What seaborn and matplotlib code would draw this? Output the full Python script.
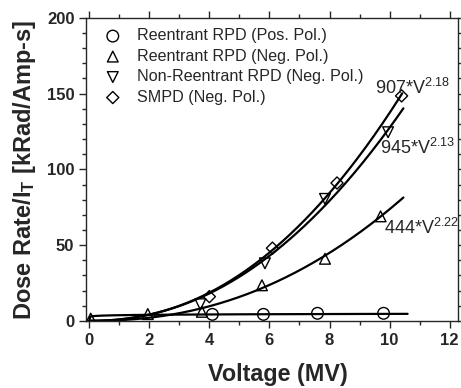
import numpy as np
import matplotlib
matplotlib.use("Agg")
import matplotlib.pyplot as plt
import seaborn as sns

# Measured points (voltage in MV, dose rate in kRad/Amp-s)
pos_v = [4.1, 5.8, 7.6, 9.8]
pos_y = [4.3, 4.3, 5.0, 5.0]
neg_v = [0.05, 1.95, 3.75, 5.75, 7.85, 9.7]
neg_y = [1.5, 4.5, 6.0, 23.5, 41.0, 69.0]
nonre_v = [3.7, 5.85, 7.85, 9.95]
nonre_y = [11.0, 38.0, 80.5, 124.5]
smpd_v = [4.0, 6.1, 8.25, 10.4]
smpd_y = [16.0, 48.0, 91.0, 148.5]

labels = ["Reentrant RPD (Pos. Pol.)", "Reentrant RPD (Neg. Pol.)",
          "Non-Reentrant RPD (Neg. Pol.)", "SMPD (Neg. Pol.)"]
markers = ["o", "^", "v", "D"]

# Power-law fits (coefficient in Rad/Amp-s, exponent, last voltage drawn)
fit_coef = [3750, 444, 945, 907]
fit_exp = [0.09, 2.22, 2.13, 2.18]
fit_end = [10.6, 10.46, 10.46, 10.42]

sns.set_style("ticks")
plt.rcParams["font.family"] = ["Liberation Sans", "DejaVu Sans"]
plt.rcParams["mathtext.fontset"] = "custom"
plt.rcParams["mathtext.rm"] = "Liberation Sans"
plt.rcParams["mathtext.bf"] = "Liberation Sans:bold"
plt.rcParams["mathtext.default"] = "regular"

fig = plt.figure(figsize=(4.61, 3.88), dpi=100)
ax = fig.add_axes([0.187, 0.173, 0.806, 0.781])

# fit curves
for c, e, end in zip(fit_coef, fit_exp, fit_end):
    v = np.linspace(0, end, 300)
    sns.lineplot(x=v, y=c * v ** e / 1000.0, ax=ax, color="black", lw=1.6)

series = [(pos_v, pos_y), (neg_v, neg_y), (nonre_v, nonre_y), (smpd_v, smpd_y)]
sizes = [70, 60, 60, 38]
for (vx, vy), m, lab, s in zip(series, markers, labels, sizes):
    sns.scatterplot(x=vx, y=vy, ax=ax, marker=m, s=s, facecolor="none",
                    edgecolor="black", linewidth=1.0, label=lab, zorder=3)

ax.legend(loc="upper left", frameon=False, fontsize=11.6, handletextpad=0.5,
          labelspacing=0.34, borderaxespad=0.25, bbox_to_anchor=(0.0, 1.0))

ax.text(9.5, 154, "907*V$^{2.18}$", fontsize=13, va="center")
ax.text(9.69, 114, "945*V$^{2.13}$", fontsize=13, va="center")
ax.text(9.83, 61.5, "444*V$^{2.22}$", fontsize=13, va="center")

ax.set_xlim(-0.1, 12.27)
ax.set_ylim(0, 200)
ax.set_xticks(range(0, 13, 2))
ax.set_xticks(range(1, 13, 2), minor=True)
ax.set_yticks(range(0, 201, 50))
ax.set_yticks(range(0, 201, 10), minor=True)
ax.tick_params(which="both", direction="out", top=True, right=True, width=1)
ax.tick_params(which="major", length=5, labelsize=12)
ax.tick_params(which="minor", length=3)
for lab in ax.get_xticklabels() + ax.get_yticklabels():
    lab.set_fontweight("bold")
for sp in ax.spines.values():
    sp.set_linewidth(1.0)

ax.set_xlabel("Voltage (MV)", fontsize=16.8, fontweight="bold")
ax.xaxis.set_label_coords(0.515, -0.14)
ax.set_ylabel("Dose Rate/I$\\mathbf{_T}$ [kRad/Amp-s]", fontsize=17,
              fontweight="bold", labelpad=6)

fig.savefig("out.png", dpi=100)
plt.close(fig)
